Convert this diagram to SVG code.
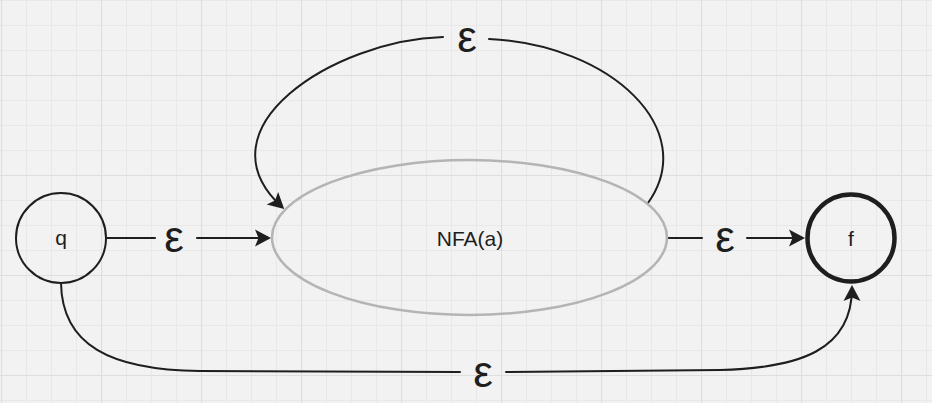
<svg xmlns="http://www.w3.org/2000/svg" width="932" height="403" viewBox="0 0 932 403">
<style>
.edge{fill:none;stroke:#1e1e1e;stroke-width:2;stroke-linecap:round}
.lbl{font-family:"Liberation Sans","DejaVu Sans",sans-serif;font-size:44px;fill:#1e1e1e;text-anchor:middle}
.nt{font-family:"Liberation Sans","DejaVu Sans",sans-serif;font-size:21px;fill:#1e1e1e;text-anchor:middle}
</style>
<defs>
<pattern id="grid" patternUnits="userSpaceOnUse" x="1" y="75" width="100" height="100">
<path d="M25.5 0V100M50.5 0V100M75.5 0V100M0 25.5H100M0 50.5H100M0 75.5H100" stroke="#e8e8e8" stroke-width="1"/>
<path d="M0.5 0V100M0 0.5H100" stroke="#dedede" stroke-width="1.2"/>
</pattern>
<marker id="ah" markerUnits="userSpaceOnUse" markerWidth="24" markerHeight="24" viewBox="-20 -12 24 24" refX="-3" refY="0" orient="auto">
<path d="M0 0 L-16 -8.5 L-12.5 0 L-16 8.5 Z" fill="#1e1e1e"/>
</marker>
</defs>
<rect width="932" height="403" fill="#f2f2f2"/>
<rect width="932" height="403" fill="url(#grid)"/>

<g id="edges">
<path class="edge" d="M107 238 L155 238"/>
<path class="edge" d="M197 238 L268 238" marker-end="url(#ah)"/>
<text class="lbl" x="174" y="252">ε</text>

<path class="edge" d="M667 238 L702 238"/>
<path class="edge" d="M747 238 L802 238" marker-end="url(#ah)"/>
<text class="lbl" x="725" y="252">ε</text>

<path class="edge" d="M648 203 C700 130, 612 45, 489 39"/>
<path class="edge" d="M443 37 C335 40, 196 128, 282 207" marker-end="url(#ah)"/>
<text class="lbl" x="467" y="52">ε</text>

<path class="edge" d="M61 283 C62 345, 110 370, 200 371 L460 372"/>
<path class="edge" d="M506 372 L720 370 C800 368, 852 350, 852 288" marker-end="url(#ah)"/>
<text class="lbl" x="483" y="387">ε</text>
</g>

<g id="node-q">
<circle cx="61" cy="238" r="45" fill="none" stroke="#1e1e1e" stroke-width="2"/>
<text class="nt" x="61" y="245">q</text>
</g>
<g id="node-nfa">
<ellipse cx="469.5" cy="237.5" rx="197.5" ry="77.5" fill="none" stroke="#b4b4b4" stroke-width="2.5"/>
<text class="nt" x="470" y="246">NFA(a)</text>
</g>
<g id="node-f">
<circle cx="851" cy="238" r="43.5" fill="none" stroke="#1e1e1e" stroke-width="4.5"/>
<text class="nt" x="851" y="246">f</text>
</g>
</svg>
